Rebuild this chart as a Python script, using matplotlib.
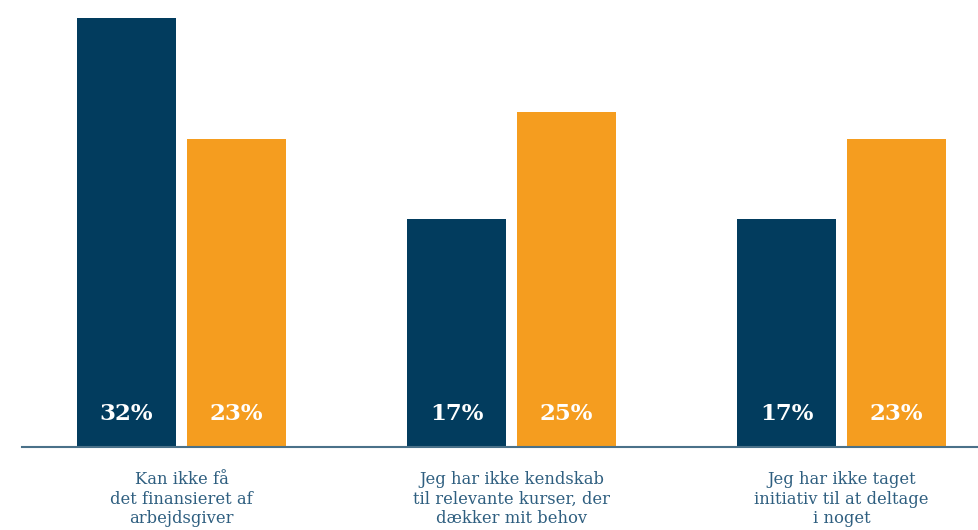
import matplotlib.pyplot as plt
import numpy as np

categories = [
    "Kan ikke få\ndet finansieret af\narbejdsgiver",
    "Jeg har ikke kendskab\ntil relevante kurser, der\ndækker mit behov",
    "Jeg har ikke taget\ninitiativ til at deltage\ni noget",
]
series_navy = [32, 17, 17]
series_orange = [23, 25, 23]

NAVY = "#023c5e"
ORANGE = "#f59d1f"
TEXT = "#2f5f80"
AXIS = "#4a7189"

W, H = 979, 530
fig = plt.figure(figsize=(W / 100, H / 100), dpi=100)
base = 447  # baseline pixel from top
ax = fig.add_axes([0, (H - base) / H, 1, base / H])

x = np.arange(len(categories))
width = 0.3
offset = 55 / 330
ax.bar(x - offset, series_navy, width, color=NAVY)
ax.bar(x + offset, series_orange, width, color=ORANGE)

ax.set_xlim(-181.5 / 330, (W - 181.5) / 330)
ax.set_ylim(0, base / 13.4)
ax.axis("off")
ax.axhline(0, xmin=22 / W, xmax=1, color=AXIS, linewidth=1.5, clip_on=False)

for i in range(len(categories)):
    for dx, val in ((-offset, series_navy[i]), (offset, series_orange[i])):
        ax.annotate(f"{val}%", (x[i] + dx, 0), xytext=(0, 33 * 0.72),
                    textcoords="offset points", ha="center", va="center",
                    color="white", fontsize=16.5, fontweight="bold",
                    family="DejaVu Serif")
    ax.annotate(categories[i], (x[i], 0), xytext=(0, -24 * 0.72),
                textcoords="offset points", ha="center", va="top",
                color=TEXT, fontsize=11.8, family="DejaVu Serif",
                linespacing=1.2, annotation_clip=False)

fig.savefig("out.png", dpi=100)
